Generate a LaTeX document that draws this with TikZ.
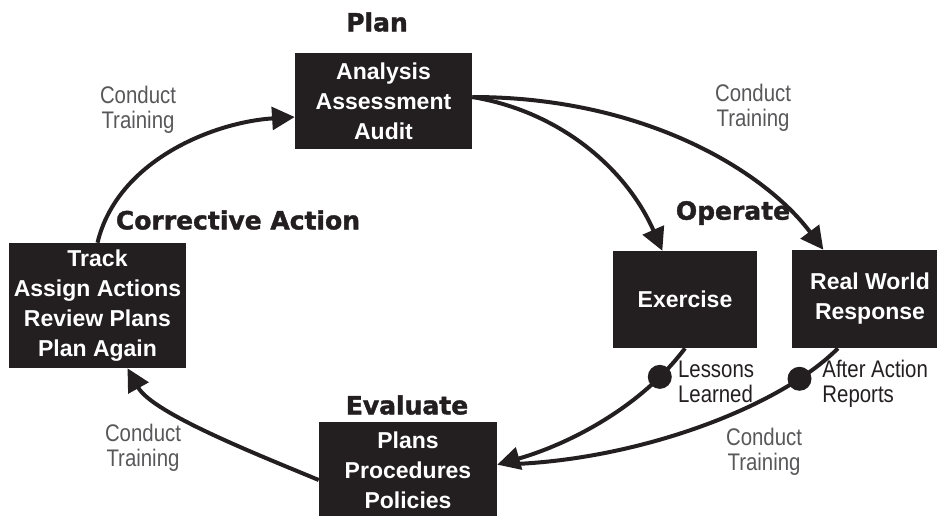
\documentclass[tikz,border=0pt]{standalone}
\usepackage{fontspec}
\setmainfont{Liberation Sans}
\newfontfamily\headfont[FakeBold=1.6]{DejaVu Sans}
\newfontfamily\slimfont[FakeStretch=0.85]{Liberation Sans}
\usetikzlibrary{arrows.meta,positioning}
\definecolor{ink}{HTML}{231F20}
\definecolor{tgray}{HTML}{58585A}

\begin{document}
\begin{tikzpicture}[x = .75pt, y = -.75pt,
	box/.style = {fill=ink, text=white, align=center, inner sep=0pt, font=\bfseries\fontsize{17.25}{22.5}\selectfont},
	title/.style = {text=ink, font=\headfont\bfseries\fontsize{18.75}{20}\selectfont},
	train/.style = {text=tgray, align=center, font=\slimfont\fontsize{18}{19}\selectfont},
	note/.style = {text=ink, align=left, inner sep=0pt, font=\slimfont\fontsize{18}{19}\selectfont},
	dot/.style = {circle, fill=ink, inner sep=0pt, minimum size=18pt},
	wire/.style = {draw=ink, line width=3pt},
	flow/.style = {wire, -{Triangle[length=17pt, width=17pt]}}]
	\useasboundingbox (0,0) rectangle (937,515);
	% boxes
	\node[box, minimum width=132.75pt, minimum height=72pt] (plan) at (383.5,101) {Analysis\\Assessment\\Audit};
	\node[box, minimum width=132.75pt, minimum height=93.75pt] (track) at (97.5,305.5) {Track\\Assign Actions\\Review Plans\\Plan Again};
	\node[box, minimum width=108pt, minimum height=72.75pt] (exercise) at (685,299.5) {Exercise};
	\node[box, minimum width=117pt, minimum height=73.5pt] (realworld) at (870,299) {Real World\\Response};
	\node[box, minimum width=133.5pt, minimum height=72pt] (evaluate) at (408,470) {Plans\\Procedures\\Policies};
	% phase titles
	\node[title] (plantitle) at (377,22) {Plan};
	\node[title] (corrtitle) at (238,220) {Corrective Action};
	\node[title] (optitle) at (733,213) {Operate};
	\node[title] (evaltitle) at (407,405) {Evaluate};
	% training labels
	\node[train] (train1) at (138,110) {Conduct\\Training};
	\node[train] (train2) at (753,108) {Conduct\\Training};
	\node[train] (train3) at (143,448) {Conduct\\Training};
	\node[train] (train4) at (764,452) {Conduct\\Training};
	% cycle
	\draw[flow] (track.north) .. controls +(20,-83) and +(-80,5) .. ([yshift=-12pt]plan.west);
	\draw[flow] ([yshift=3pt]plan.east) .. controls +(90,15) and +(-35,-80) .. ([xshift=-17pt]exercise.north);
	\draw[flow] ([yshift=3pt]plan.east) .. controls +(170,0) and +(-60,-80) .. ([xshift=-35pt]realworld.north);
	\draw[flow] (exercise.south) .. controls +(-45,60) and +(70,-20) .. ([yshift=4pt]evaluate.east) node[dot, pos=.17] (ldot) {};
	\draw[wire, shorten >=10pt] ([xshift=-24pt]realworld.south) .. controls +(-60,60) and +(140,-5) .. ([yshift=4pt]evaluate.east) node[dot, pos=.175] (rdot) {};
	\draw[flow] ([yshift=-7.5pt]evaluate.west) .. controls +(-60,-25) and +(25,45) .. ([xshift=22.5pt]track.south);
	\node[note, right=3pt of ldot, yshift=-3.75pt] (lessons) {Lessons\\Learned};
	\node[note, right=6.5pt of rdot, yshift=-3.75pt] (reports) {After Action\\Reports};
\end{tikzpicture}
\end{document}
